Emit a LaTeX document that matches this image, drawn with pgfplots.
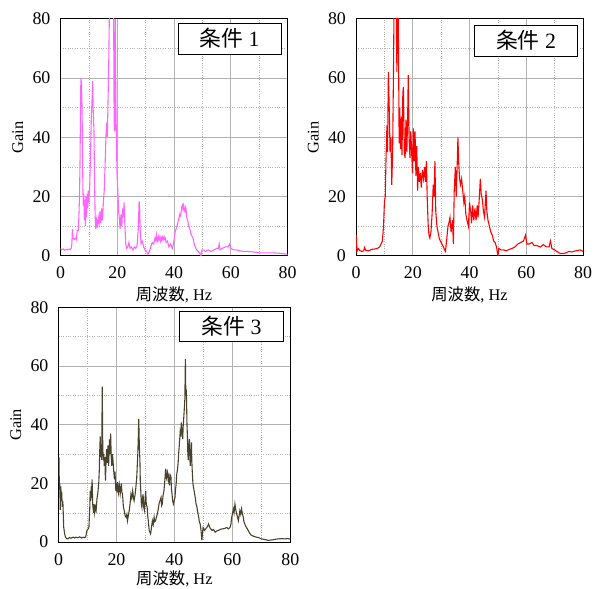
\documentclass[border=0pt]{standalone}
\usepackage{fontspec}
\setmainfont{Liberation Serif}
\newfontfamily\jp{Noto Sans CJK JP}
\usepackage{pgfplots}
\pgfplotsset{compat=1.18}

\definecolor{c1}{RGB}{255,100,255}
\definecolor{c2}{RGB}{255,0,0}
\definecolor{c3}{RGB}{72,66,45}
\definecolor{gridc}{RGB}{178,178,178}

\tikzset{
 tag/.style={draw, line width=1pt, fill=white, minimum width=104pt, minimum height=31pt,
   anchor=north east, font=\fontsize{22}{24}\selectfont, inner sep=0pt},
}
\pgfplotsset{
 myax/.style={
  scale only axis, width=229pt, height=239pt,
  xmin=0,xmax=80,ymin=0,ymax=80,
  xtick={0,20,40,60,80}, ytick={0,20,40,60,80},
  minor xtick={10,30,50,70}, minor ytick={10,30,50,70},
  grid=both,
  major grid style={gridc, line width=0.8pt},
  minor grid style={gridc, dotted, line width=0.6pt},
  major tick length=0pt, minor tick length=0pt,
  axis line style={black, line width=0.9pt},
  /pgf/number format/assume math mode=true,
  tick label style={font=\fontsize{18}{20}\selectfont},
  xticklabel style={inner sep=0pt, anchor=north, yshift=-11pt},
  yticklabel style={inner sep=0pt, anchor=east, xshift=-10pt},
  xlabel={{\jp 周波数}, Hz},
  ylabel={Gain},
  label style={font=\fontsize{16.5}{18}\selectfont},
  xlabel style={at={([yshift=-39pt]rel axis cs:0.5,0)}, anchor=center},
  ylabel style={at={([xshift=-43pt]rel axis cs:0,0.5)}, anchor=center},
 },
}

\begin{document}
\begin{tikzpicture}
\path[use as bounding box] (0pt,-1pt) rectangle (600pt,592pt);

% ---------------- condition 1 ----------------
\begin{axis}[myax, at={(61pt,334pt)}, anchor=south west]
\addplot[c1, line width=1.1pt] coordinates {
(0.15,2.5)(0.3,2)(1,2.3)(1.5,1.9)(2,2.2)(2.5,2)(3,2.3)(3.5,2.1)(3.8,2.6)(4.0,4)(4.2,9)(4.4,6)(4.8,5.5)(5.3,6)(5.6,5.5)(5.9,8.5)(6.3,8.5)(6.5,14)(6.7,20)(6.9,33)(7.1,55)(7.2,60)(7.4,58)(7.6,50)(7.8,30)(8.0,17)(8.2,21)(8.4,12)(8.6,19)(8.8,10)(9.0,20)(9.2,13)(9.4,21)(9.6,16)(9.8,22)(10.0,18)(10.3,24)(10.6,35)(10.9,48)(11.1,52)(11.3,59)(11.5,50)(11.8,42)(12.0,25)(12.2,14)(12.4,9)(12.7,12)(13.0,9.5)(13.3,13)(13.6,11)(13.9,15)(14.2,11)(14.5,16)(14.8,12)(15.1,18)(15.4,22)(15.7,30)(16.0,40)(16.3,45)(16.5,40)(16.8,55)(17.0,65)(17.2,80)(17.5,92)(17.8,88)(18.1,95)(18.4,90)(18.7,85)(18.9,45)(19.1,42)(19.3,80)(19.5,52)(19.7,40)(19.9,28)(20.2,22)(20.5,15)(20.8,12)(21.0,9)(21.3,14)(21.6,10)(21.9,16)(22.2,13)(22.4,18)(22.7,10)(23.0,4)(23.3,2.5)(23.7,3)(24.1,4.5)(24.5,2.5)(25.0,3)(25.5,2)(26.0,3)(26.5,2.5)(27.0,3.5)(27.4,9)(27.7,18.5)(27.9,16)(28.1,8)(28.4,4)(28.8,5)(29.3,3)(29.8,2)(30.3,1.5)(30.8,0.5)(31.3,1.5)(31.8,3)(32.3,4.5)(32.8,4)(33.3,6)(33.6,5)(33.8,7)(34.0,5.5)(34.2,5)(34.5,6.5)(34.7,5.5)(35.0,6.5)(35.2,5)(35.5,6.2)(35.7,5.3)(36.0,6.3)(36.2,5.5)(36.5,6.4)(36.7,5.6)(37.0,6)(37.2,4.5)(37.7,5)(38.2,3)(38.8,4)(39.4,2.5)(39.8,4)(40.1,6)(40.4,8)(40.7,9)(41,10)(41.3,11)(41.5,12)(41.8,13)(42,14)(42.3,13.5)(42.5,15)(42.7,16.5)(42.9,17)(43.1,16)(43.3,17.7)(43.5,15.5)(43.8,15)(44.0,16.5)(44.2,16)(44.4,13.5)(44.5,13)(44.8,12)(45.0,11)(45.3,9.5)(45.6,9)(45.9,7.5)(46.1,7)(46.4,6.5)(46.7,6)(47.0,4.5)(47.3,3.5)(47.9,2)(48.5,1.5)(49.0,1)(49.5,0)(49.8,2)(50.5,2)(51,1.5)(52,2)(53,1.5)(54,2)(55,2.5)(55.6,2.5)(55.9,4)(56.2,2)(57,2.5)(58,3)(59,3)(59.6,4)(60,2.5)(61,2)(62,2)(64,1.5)(66,1.5)(68,1.3)(70,1)(72,1)(75,1)(78,0.8)(80,0.5)
};
\node[tag] at ([xshift=-6pt,yshift=-4pt]rel axis cs:1,1) {{\jp 条件} 1};
\end{axis}

% ---------------- condition 2 ----------------
\begin{axis}[myax, at={(359pt,334pt)}, anchor=south west]
\addplot[c2, line width=1.1pt] coordinates {
(0.15,7)(0.3,1.5)(0.8,2.5)(1.3,1.8)(2,1.5)(2.7,1.7)(3,2.8)(3.5,1.8)(4.5,1.7)(5.5,2.2)(6.5,2.3)(7.5,2.5)(8.3,3)(8.8,4)(9.3,5)(9.7,10)(10.0,18)(10.3,20)(10.6,34)(10.9,44)(11.1,35)(11.4,62)(11.7,50)(12.0,35)(12.3,40)(12.6,24)(12.9,35)(13.2,62)(13.4,85)(13.6,90)(13.9,85)(14.1,90)(14.4,62)(14.7,90)(14.9,80)(15.2,38)(15.4,50)(15.7,36)(16.0,47)(16.2,34)(16.5,55)(16.7,57)(17.0,35)(17.3,33)(17.6,46)(17.9,35)(18.2,47)(18.4,61)(18.7,40)(19.0,33)(19.3,42)(19.6,35)(19.9,28)(20.2,43)(20.5,32)(20.8,42)(21.1,27)(21.4,37)(21.7,22)(22.0,30)(22.3,25)(22.7,28)(23.0,23)(23.4,29)(23.8,26)(24.2,30)(24.5,25)(24.8,32)(25.1,19)(25.4,11)(25.7,7)(26.0,6)(26.4,8)(26.8,14)(27.2,24)(27.5,20)(27.8,32)(28.1,15)(28.5,10)(28.9,8)(29.3,6)(29.7,5)(30.3,4)(30.8,3)(31.2,2)(31.5,1.5)(31.9,5)(32.4,10)(32.7,11)(33.1,13)(33.5,8)(34.0,12)(34.3,4)(34.6,22)(35.0,30)(35.3,20)(35.6,29)(35.9,40)(36.2,31)(36.5,26)(36.8,24)(37.2,26)(37.6,22)(38.0,18)(38.3,20)(38.7,14)(39.1,12)(39.6,10)(40.0,18)(40.4,15)(40.7,11)(41.1,17)(41.5,12)(41.9,16)(42.3,12)(42.7,17)(43.0,13)(43.4,19)(43.8,26)(44.1,21)(44.5,19)(44.9,15)(45.3,13)(45.8,22)(46.1,15)(46.5,12)(47,10)(47.5,8)(48,7)(48.5,5)(49,4.5)(49.5,3)(50,0)(50.3,2.5)(51,2)(52,2)(53,1.7)(54,2.2)(55,2.5)(56,3)(57,4)(58,4.5)(59,5)(59.7,7)(60.2,4)(61,4)(62,4.5)(62.7,3.5)(63.5,3.5)(65,3)(66,3.8)(67,3)(68,3)(68.5,5)(69,2.5)(70,2)(71,1.3)(72,0.8)(73,0.8)(74,1)(75,1.5)(76,1.3)(77,1.6)(78,1.8)(79,2)(80,1.5)
};
\node[tag] at ([xshift=-5pt,yshift=-6pt]rel axis cs:1,1) {{\jp 条件} 2};
\end{axis}

% ---------------- condition 3 ----------------
\begin{axis}[myax, width=233.7pt, height=236.7pt, at={(59pt,45.3pt)}, anchor=south west,
  xlabel style={at={([yshift=-37pt]rel axis cs:0.5,0)}, anchor=center}]
\addplot[c3, line width=1.1pt] coordinates {
(0.15,29)(0.3,18)(0.45,20)(0.6,11)(0.8,19)(0.95,15)(1.1,17)(1.3,12)(1.5,14)(1.8,5)(2.1,3)(2.4,1.7)(2.8,1.2)(3.3,1.1)(3.8,1.6)(4.3,1.3)(5,1.7)(5.5,1.4)(6,1.7)(6.7,1.5)(7.3,1.8)(8,1.4)(8.5,1.7)(9.0,1.5)(9.4,1.8)(9.8,4)(10.2,4.5)(10.5,5)(10.8,12)(10.95,17.5)(11.1,14)(11.3,19)(11.45,15)(11.6,21.4)(11.8,13)(12.1,10)(12.3,13)(12.5,10)(12.8,12)(13.0,11)(13.3,15)(13.6,17)(13.9,20.3)(14.1,25)(14.2,30)(14.4,36)(14.55,29)(14.7,32)(14.9,28)(15.1,53)(15.25,35)(15.4,28)(15.6,30)(15.8,26)(16.0,29)(16.2,21)(16.4,27)(16.6,31.7)(16.8,27)(17.1,33)(17.3,26)(17.6,35)(17.8,30)(18.0,37)(18.2,29)(18.4,26)(18.6,30)(18.8,28)(19.0,25)(19.3,21.4)(19.5,24)(19.8,17.5)(20.0,20)(20.2,17)(20.4,20.5)(20.7,17)(21.0,19.5)(21.3,16.5)(21.7,20)(21.9,17)(22.1,16.3)(22.4,12)(22.7,10.7)(23.0,9)(23.3,8.5)(23.6,9.5)(23.8,7.3)(24.1,9)(24.4,10.7)(24.7,13)(25.0,16.3)(25.3,15)(25.6,17.5)(25.9,15)(26.1,14.1)(26.4,16)(26.7,18.6)(27.0,22)(27.4,30.6)(27.55,36)(27.7,42)(27.9,33)(28.1,28)(28.25,20)(28.4,17.5)(28.6,13)(28.8,11.9)(29.0,15)(29.2,16.3)(29.4,12)(29.7,10.7)(29.9,15)(30.1,17.5)(30.3,13)(30.6,11.9)(30.8,9)(31.0,7.3)(31.3,4)(31.8,2.8)(32.1,5)(32.4,7.3)(32.7,6)(33.0,8.5)(33.2,7)(33.5,7.3)(33.8,8.5)(34.1,9.6)(34.4,11)(34.7,13)(35.0,14)(35.4,15.2)(35.6,12.5)(35.8,13)(36.1,16)(36.4,17.5)(36.7,21)(37.0,25)(37.2,22)(37.4,21.4)(37.6,24)(37.9,23)(38.1,20)(38.3,19.7)(38.5,23)(38.8,22.5)(39.0,18)(39.2,16.3)(39.4,14)(39.7,13)(39.9,14)(40.2,15.2)(40.4,18)(40.6,19.7)(40.8,23)(41.1,25)(41.3,27)(41.5,30.6)(41.7,33)(42.0,37.4)(42.2,36)(42.4,40.8)(42.6,38)(42.9,35.1)(43.0,39)(43.2,41.8)(43.4,45)(43.6,48.5)(43.7,55)(43.8,62.5)(43.95,50)(44.1,52)(44.2,48.5)(44.35,40)(44.5,36.2)(44.65,30)(44.8,28)(45.0,33)(45.2,35.1)(45.35,28)(45.5,26)(45.7,31)(45.9,34)(46.0,28)(46.2,23.6)(46.4,20)(46.6,18.6)(46.9,17)(47.2,15.2)(47.5,13)(47.8,11.9)(48.1,10)(48.4,8.5)(48.6,7)(48.9,6.2)(49.2,4)(49.5,0.6)(49.7,3)(49.9,5)(50.2,4.5)(50.4,4)(50.8,4.5)(51.2,5)(51.5,5.5)(51.8,6.2)(52.2,5)(52.6,4.5)(53.0,4)(53.5,4.3)(54.1,3.4)(54.6,3.8)(55.2,4)(55.8,4.3)(56.4,4.5)(57.2,4.6)(58.1,5)(58.6,4.5)(59.2,5)(59.5,6)(59.8,8.5)(60.1,10)(60.4,11.3)(60.6,10)(60.9,13)(61.2,11)(61.5,9.6)(61.8,8.5)(62.1,7.3)(62.35,9)(62.6,10.7)(62.9,9.5)(63.2,11.3)(63.5,9.5)(63.8,8.5)(64.0,7)(64.3,6.2)(64.6,5.5)(64.9,5)(65.2,4.5)(65.5,4)(66.0,3)(66.6,2.3)(67.4,2)(68.3,1.7)(69.2,1.5)(70.0,1.1)(71.2,0.9)(72.4,0.6)(73.2,0.7)(74.0,0.8)(75.0,1)(75.8,1.1)(77,1.2)(78,1.1)(79,1.2)(80,1.1)
};
\node[tag] at ([xshift=-6.7pt,yshift=-3.3pt]rel axis cs:1,1) {{\jp 条件} 3};
\end{axis}
\end{tikzpicture}
\end{document}
